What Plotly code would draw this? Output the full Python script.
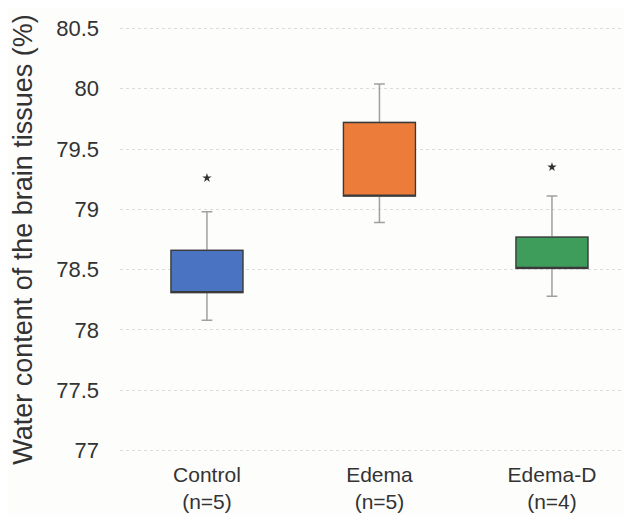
import plotly.graph_objects as go

categories = ["Control", "Edema", "Edema-D"]
tick_text = ["Control<br>(n=5)", "Edema<br>(n=5)", "Edema-D<br>(n=4)"]
q1 = [78.31, 79.11, 78.51]
q3 = [78.66, 79.72, 78.77]
whisker_low = [78.08, 78.89, 78.28]
whisker_high = [78.98, 80.04, 79.11]
star_cats = ["Control", "Edema-D"]
star_vals = [79.26, 79.35]
colors = ["#4a74c2", "#ec7c3a", "#3f9d5b"]

fig = go.Figure()

# whiskers (gray)
fig.add_trace(go.Box(
    x=categories, q1=q1, median=q1, q3=q3,
    lowerfence=whisker_low, upperfence=whisker_high,
    line=dict(color="#a0a0a0", width=1.5), fillcolor="rgba(0,0,0,0)",
    whiskerwidth=0.15, width=0.417, showlegend=False, boxpoints=False,
))

# colored boxes
for c, a, b, col in zip(categories, q1, q3, colors):
    fig.add_trace(go.Box(
        x=[c], q1=[a], median=[a], q3=[b], lowerfence=[a], upperfence=[b],
        line=dict(color="#3a3a3a", width=1.3), fillcolor=col,
        whiskerwidth=0, width=0.417, showlegend=False, boxpoints=False,
    ))

fig.add_trace(go.Scatter(
    x=star_cats, y=star_vals, mode="markers",
    marker=dict(symbol="star", size=7, color="#333333"),
    showlegend=False,
))

fig.update_layout(
    width=624, height=507,
    margin=dict(l=112, r=0, t=18, b=62),
    paper_bgcolor="#fdfdfc", plot_bgcolor="#fdfdfc",
    boxmode="overlay",
    font=dict(family="Liberation Sans, Arial, sans-serif", color="#333333"),
)
fig.update_xaxes(
    type="category", categoryorder="array", categoryarray=categories,
    tickvals=categories, ticktext=tick_text,
    tickfont=dict(size=21, color="#333333"), ticklabelstandoff=7,
    showgrid=False, showline=False, zeroline=False, ticks="",
    range=[-0.504, 2.464], automargin=False,
)
fig.update_yaxes(
    range=[76.98, 80.52], tickvals=[77, 77.5, 78, 78.5, 79, 79.5, 80, 80.5],
    ticktext=["77", "77.5", "78", "78.5", "79", "79.5", "80", "80.5"],
    tickfont=dict(size=22, color="#333333"),
    showgrid=True, gridcolor="#dcdcdc", griddash="dot", gridwidth=1,
    zeroline=False, showline=False, ticks="", ticklabelstandoff=20,
    automargin=False,
    title=dict(text="Water content of the brain tissues (%)",
               font=dict(size=27, color="#333333"), standoff=16),
)

fig.write_html("out.html")
